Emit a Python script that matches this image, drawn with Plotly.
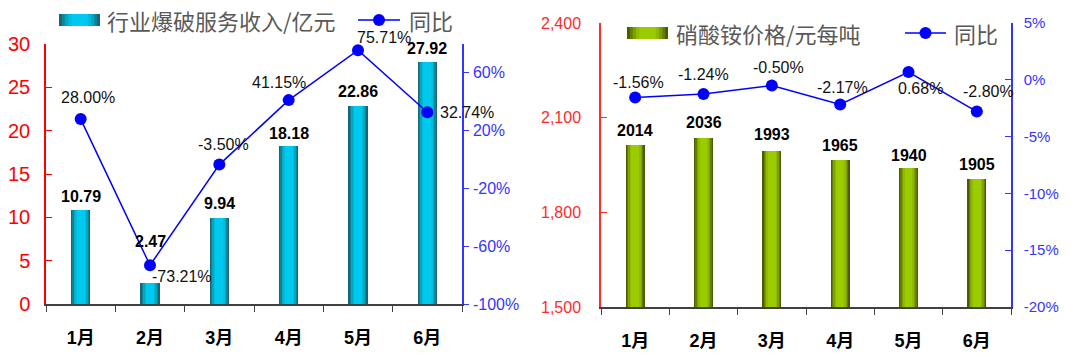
import plotly.graph_objects as go

# ---------------- data ----------------
months = ["1月", "2月", "3月", "4月", "5月", "6月"]
blast_revenue = [10.79, 2.47, 9.94, 18.18, 22.86, 27.92]      # 行业爆破服务收入/亿元
blast_yoy = [28.00, -73.21, -3.50, 41.15, 75.71, 32.74]        # 同比 (%)
an_price = [2014, 2036, 1993, 1965, 1940, 1905]                # 硝酸铵价格/元每吨
an_yoy = [-1.56, -1.24, -0.50, -2.17, 0.68, -2.80]             # 同比 (%)

left_y_ticks = [0, 5, 10, 15, 20, 25, 30]
left_y2_ticks = [-100, -60, -20, 20, 60]
right_y_ticks = [1500, 1800, 2100, 2400]
right_y2_ticks = [-20, -15, -10, -5, 0, 5]

legend_left = ["行业爆破服务收入/亿元", "同比"]
legend_right = ["硝酸铵价格/元每吨", "同比"]

# ---------------- styles ----------------
OX, OY = 0, 0          # body margin is reset to 0 by the post script
W, H = 1080 - OX, 357 - OY
FONT = "Liberation Sans, Arial, Noto Sans CJK SC, sans-serif"
CJK = "Noto Sans CJK SC, Liberation Sans, sans-serif"
RED = "#FF0000"
RED2 = "#FF2A2A"
BLUE_AX = "#3535FF"
BLUE_LINE = "#0000FF"
AXIS_DARK = "#404040"
LEG_GRAY = "#595959"

BAR_W = 0.28
layer_frac = [1.0, 0.86, 0.72, 0.56, 0.4]
cyan_layers = ["#1A6473", "#0E8498", "#05A6C0", "#00BCDB", "#00C9EF"]
green_layers = ["#4B5C00", "#647E00", "#7FA000", "#90BA00", "#9ACC00"]

blast_bar_shift = [14, 41, 14, 13, 14, 14]
an_bar_shift = [14, 15, 17, 15, 13, 15]
blast_yoy_off = [(7, -22), (32, 11), (4, -20), (-10, -18), (26, -13), (40, 0)]
an_yoy_off = [(3, -15), (0, -19), (7, -18), (2, -17), (12, 16), (12, -20)]


def px(x):
    return (x - OX) / W


def py(y):
    return 1 - (y - OY) / H


fig = go.Figure()

# left chart bars (nested layers for the gradient look)
for frac, col in zip(layer_frac, cyan_layers):
    fig.add_trace(go.Bar(x=months, y=blast_revenue, width=BAR_W * frac,
                         marker=dict(color=col, line=dict(width=0)),
                         xaxis="x", yaxis="y", hoverinfo="skip", showlegend=False))
fig.add_trace(go.Scatter(x=months, y=blast_yoy, mode="lines+markers",
                         line=dict(color=BLUE_LINE, width=1.5),
                         marker=dict(color=BLUE_LINE, size=12),
                         xaxis="x", yaxis="y2", showlegend=False, cliponaxis=False))

# right chart bars
for frac, col in zip(layer_frac, green_layers):
    fig.add_trace(go.Bar(x=months, y=an_price, width=BAR_W * frac,
                         marker=dict(color=col, line=dict(width=0)),
                         xaxis="x2", yaxis="y3", hoverinfo="skip", showlegend=False))
fig.add_trace(go.Scatter(x=months, y=an_yoy, mode="lines+markers",
                         line=dict(color=BLUE_LINE, width=1.5),
                         marker=dict(color=BLUE_LINE, size=12),
                         xaxis="x2", yaxis="y4", showlegend=False, cliponaxis=False))

annotations = []
# bar value labels
for m, v, s in zip(months, blast_revenue, blast_bar_shift):
    annotations.append(dict(x=m, y=v, xref="x", yref="y", text=f"<b>{v:.2f}</b>",
                            showarrow=False, yshift=s, yanchor="middle",
                            font=dict(family=FONT, size=16, color="#000000")))
for m, v, s in zip(months, an_price, an_bar_shift):
    annotations.append(dict(x=m, y=v, xref="x2", yref="y3", text=f"<b>{v}</b>",
                            showarrow=False, yshift=s, yanchor="middle",
                            font=dict(family=FONT, size=16, color="#000000")))
# yoy labels
for m, v, (dx, dy) in zip(months, blast_yoy, blast_yoy_off):
    annotations.append(dict(x=m, y=v, xref="x", yref="y2", text=f"{v:.2f}%",
                            showarrow=False, xshift=dx, yshift=-dy, yanchor="middle",
                            font=dict(family=FONT, size=16, color="#111111")))
for m, v, (dx, dy) in zip(months, an_yoy, an_yoy_off):
    annotations.append(dict(x=m, y=v, xref="x2", yref="y4", text=f"{v:.2f}%",
                            showarrow=False, xshift=dx, yshift=-dy, yanchor="middle",
                            font=dict(family=FONT, size=16, color="#111111")))

shapes = []


def add_legend(bar_x0, bar_x1, cy, text_x, line_x0, line_x1, text2_x, layers, labels):
    cx = (bar_x0 + bar_x1) / 2
    full = bar_x1 - bar_x0
    for frac, col in zip(layer_frac, layers):
        hw = full * frac / 2
        shapes.append(dict(type="rect", xref="paper", yref="paper",
                           x0=px(cx - hw), x1=px(cx + hw), y0=py(cy + 6), y1=py(cy - 6),
                           fillcolor=col, line=dict(width=0)))
    annotations.append(dict(x=px(text_x), y=py(cy), xref="paper", yref="paper",
                            text=labels[0], showarrow=False, xanchor="left", yanchor="middle",
                            font=dict(family=CJK, size=22, color=LEG_GRAY)))
    shapes.append(dict(type="line", xref="paper", yref="paper",
                       x0=px(line_x0), x1=px(line_x1), y0=py(cy), y1=py(cy),
                       line=dict(color=BLUE_LINE, width=1.5)))
    mx = (line_x0 + line_x1) / 2
    shapes.append(dict(type="circle", xref="paper", yref="paper",
                       x0=px(mx - 6), x1=px(mx + 6), y0=py(cy + 6), y1=py(cy - 6),
                       fillcolor=BLUE_LINE, line=dict(width=0)))
    annotations.append(dict(x=px(text2_x), y=py(cy), xref="paper", yref="paper",
                            text=labels[1], showarrow=False, xanchor="left", yanchor="middle",
                            font=dict(family=CJK, size=22, color=LEG_GRAY)))


add_legend(59, 100, 20, 105, 358, 400, 407, cyan_layers, legend_left)
add_legend(627, 668, 33, 674, 905, 946, 952, green_layers, legend_right)

xaxis_common = dict(type="category", showline=True, linecolor=AXIS_DARK, linewidth=1.5,
                    ticks="outside", tickson="boundaries", ticklen=6, tickcolor=AXIS_DARK,
                    tickwidth=1.2, showgrid=False, zeroline=False, automargin=False,
                    tickfont=dict(family=FONT, size=18, color="#000000", weight="bold"),
                    ticklabelstandoff=17, range=[-0.5, 5.5], fixedrange=True)

fig.update_layout(
    width=W, height=H, autosize=False,
    margin=dict(l=0, r=0, t=0, b=0, pad=0),
    paper_bgcolor="white", plot_bgcolor="white",
    barmode="overlay", bargap=0,
    showlegend=False,
    xaxis=dict(domain=[px(46), px(462)], anchor="y", **xaxis_common),
    yaxis=dict(domain=[py(304), py(44)], range=[0, 30], tickvals=left_y_ticks,
               ticktext=[str(v) for v in left_y_ticks], automargin=False,
               showline=True, linecolor=RED, linewidth=1.5, ticks="inside", ticklen=6,
               tickcolor=RED, showgrid=False, zeroline=False,
               tickfont=dict(family=FONT, size=20, color=RED), ticklabelstandoff=10),
    yaxis2=dict(overlaying="y", side="right", anchor="x", range=[-100, 80],
                tickvals=left_y2_ticks, ticktext=[f"{v}%" for v in left_y2_ticks],
                showline=True, linecolor=BLUE_AX, linewidth=1.5, ticks="outside", ticklen=5,
                tickcolor=BLUE_AX, showgrid=False, zeroline=False, automargin=False,
                tickfont=dict(family=FONT, size=16, color=BLUE_AX), ticklabelstandoff=1),
    xaxis2=dict(domain=[px(601), px(1011)], anchor="y3", **xaxis_common),
    yaxis3=dict(domain=[py(307), py(23)], range=[1500, 2400], tickvals=right_y_ticks,
                ticktext=[f"{v:,}" for v in right_y_ticks], automargin=False,
                showline=True, linecolor=RED2, linewidth=1.5, ticks="inside", ticklen=6,
                tickcolor=RED2, showgrid=False, zeroline=False, anchor="x2",
                tickfont=dict(family=FONT, size=16, color=RED2), ticklabelstandoff=15),
    yaxis4=dict(overlaying="y3", side="right", anchor="x2", range=[-20, 5],
                tickvals=right_y2_ticks, ticktext=[f"{v}%" for v in right_y2_ticks],
                showline=True, linecolor=BLUE_AX, linewidth=1.5, ticks="inside", ticklen=6,
                tickcolor=BLUE_AX, showgrid=False, zeroline=False, automargin=False,
                tickfont=dict(family=FONT, size=15, color=BLUE_AX), ticklabelstandoff=8),
    annotations=annotations,
    shapes=shapes,
)

fig.write_html("out.html",
               config={"displayModeBar": False},
               post_script="document.body.style.margin='0px';"
                           "document.body.style.overflow='hidden';")
